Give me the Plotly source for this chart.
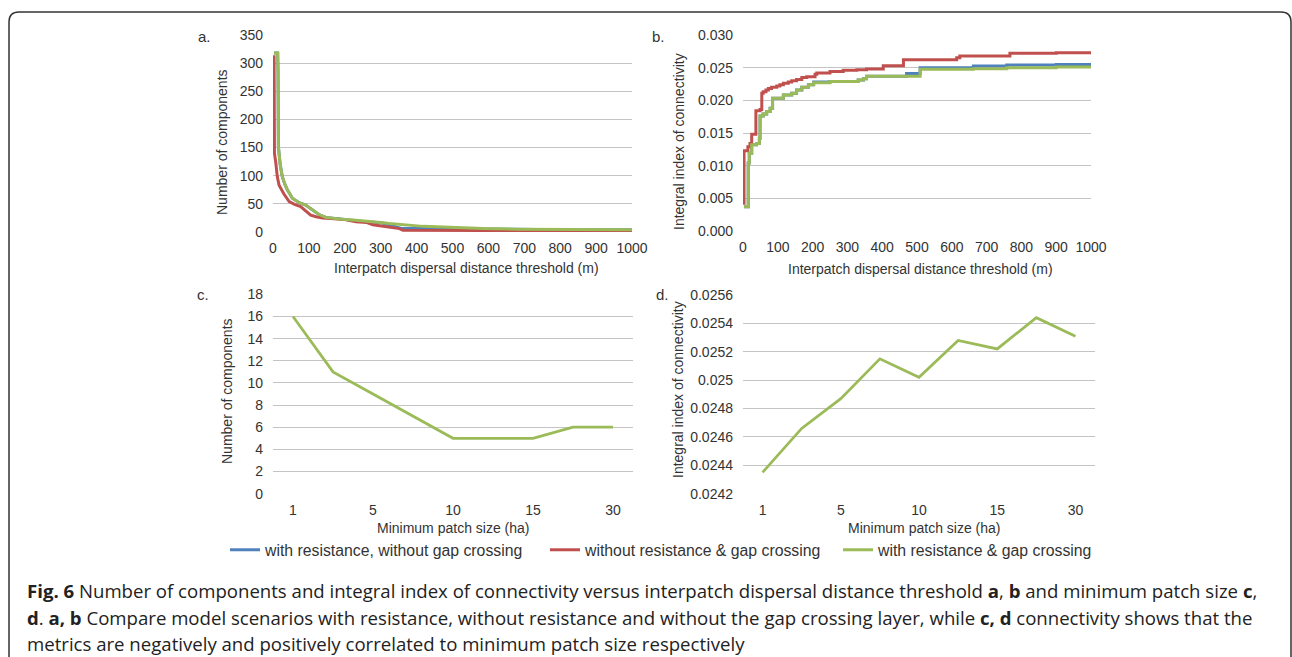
import plotly.graph_objects as go

W, H = 1292, 657


def fx(p):
    return p / W


def fy(p):
    return 1 - p / H


BLUE = "#4F81BD"
RED = "#C0504D"
GREEN = "#9BBB59"
GRID = "#c4c4c4"
TXT = "#333333"
FONT = "Liberation Sans, Arial, sans-serif"

series_names = [
    "with resistance, without gap crossing",
    "without resistance & gap crossing",
    "with resistance & gap crossing",
]

# ---------------- Panel a: number of components vs distance threshold (m)
a_blue_x = [3, 13, 14, 15, 20, 26, 33, 40, 54, 73, 91, 110, 128, 147, 185, 231, 263, 305, 340, 360, 450, 550, 668, 800, 1000]
a_blue_y = [318, 318, 285, 151, 120, 98, 85, 75, 60, 52, 48, 39, 31, 26, 23, 20, 18, 16, 10, 6, 6, 6, 5, 4, 4]

a_red_x = [3, 4, 8, 12, 17, 30, 45, 60, 77, 90, 105, 120, 138, 160, 200, 231, 260, 278, 300, 324, 340, 352, 362, 400, 500, 600, 700, 800, 900, 1000]
a_red_y = [314, 140, 122, 98, 83, 68, 54, 49, 45, 38, 30, 27, 25, 24, 22, 18, 17, 13, 11, 9, 8, 6, 3, 3, 3, 2, 2, 2, 2, 2]

a_green_x = [3, 13, 14, 15, 20, 26, 33, 40, 54, 73, 91, 110, 128, 147, 185, 231, 278, 300, 324, 343, 362, 418, 511, 585, 680, 865, 1000]
a_green_y = [318, 318, 285, 151, 120, 98, 85, 75, 60, 52, 48, 39, 31, 26, 23, 21, 19, 17, 15, 14, 12, 10, 8, 6, 5, 5, 4]

# ---------------- Panel b: integral index of connectivity vs distance threshold (m)
b_blue_x = [3, 15, 18, 25, 39, 47, 49, 58, 68, 78, 85, 116, 140, 154, 169, 188, 203, 250, 317, 331, 346, 355, 470, 509, 662, 758, 900, 1000]
b_blue_y = [0.0037, 0.0104, 0.0119, 0.0132, 0.0134, 0.0142, 0.0176, 0.0179, 0.0183, 0.0188, 0.0203, 0.0208, 0.0211, 0.0216, 0.0220, 0.0224, 0.0228, 0.0229, 0.0229, 0.0231, 0.0233, 0.0237, 0.0241, 0.0250, 0.02526, 0.0254, 0.0255, 0.0256]

b_red_x = [3, 3, 14, 20, 25, 37, 49, 54, 58, 66, 73, 82, 97, 106, 116, 130, 140, 154, 169, 183, 207, 212, 250, 288, 327, 355, 403, 461, 614, 623, 767, 900, 1000]
b_red_y = [0.0040, 0.0123, 0.0129, 0.0134, 0.0148, 0.0184, 0.0186, 0.0211, 0.0213, 0.0216, 0.0218, 0.0220, 0.0222, 0.0224, 0.0226, 0.0228, 0.0230, 0.0232, 0.0235, 0.0236, 0.0240, 0.0242, 0.0244, 0.0246, 0.0247, 0.0248, 0.0253, 0.0262, 0.0265, 0.0268, 0.0272, 0.0273, 0.0274]

b_green_x = [3, 15, 18, 25, 39, 47, 49, 58, 68, 78, 85, 116, 140, 154, 169, 188, 203, 250, 317, 331, 346, 355, 509, 662, 758, 900, 1000]
b_green_y = [0.0037, 0.0104, 0.0119, 0.0132, 0.0134, 0.0142, 0.0176, 0.0179, 0.0183, 0.0188, 0.0203, 0.0208, 0.0211, 0.0216, 0.0220, 0.0224, 0.0227, 0.0229, 0.0229, 0.0231, 0.0233, 0.0237, 0.02475, 0.02485, 0.0250, 0.0251, 0.0251]

# ---------------- Panels c, d: minimum patch size (ha)
patch_sizes = ["1", "2.5", "5", "7.5", "10", "12.5", "15", "20", "30"]
patch_labels = ["1", "5", "10", "15", "30"]
c_components = [16, 11, 9, 7, 5, 5, 5, 6, 6]
d_iic = [0.02435, 0.02466, 0.02487, 0.02515, 0.02502, 0.02528, 0.02522, 0.02544, 0.02531]

a_yticks = [0, 50, 100, 150, 200, 250, 300, 350]
b_yticks = [0.000, 0.005, 0.010, 0.015, 0.020, 0.025, 0.030]
c_yticks = [0, 2, 4, 6, 8, 10, 12, 14, 16, 18]
d_yticks = [0.0242, 0.0244, 0.0246, 0.0248, 0.0250, 0.0252, 0.0254, 0.0256]
d_ytext = ["0.0242", "0.0244", "0.0246", "0.0248", "0.025", "0.0252", "0.0254", "0.0256"]
dist_ticks = list(range(0, 1001, 100))

fig = go.Figure()

colors = [BLUE, RED, GREEN]
legends = ["legend", "legend2", "legend3"]
a_data = [(a_blue_x, a_blue_y), (a_red_x, a_red_y), (a_green_x, a_green_y)]
b_data = [(b_blue_x, b_blue_y), (b_red_x, b_red_y), (b_green_x, b_green_y)]

for i in range(3):
    fig.add_trace(go.Scatter(
        x=a_data[i][0], y=a_data[i][1], mode="lines", name=series_names[i],
        line=dict(color=colors[i], width=3), xaxis="x", yaxis="y",
        legend=legends[i], showlegend=True))
for i in range(3):
    fig.add_trace(go.Scatter(
        x=b_data[i][0], y=b_data[i][1], mode="lines", name=series_names[i],
        line=dict(color=colors[i], width=3, shape="hv"), xaxis="x2", yaxis="y2",
        showlegend=False))

fig.add_trace(go.Scatter(x=patch_sizes, y=c_components, mode="lines",
                         line=dict(color=GREEN, width=2.75), xaxis="x3", yaxis="y3",
                         showlegend=False))
fig.add_trace(go.Scatter(x=patch_sizes, y=d_iic, mode="lines",
                         line=dict(color=GREEN, width=2.75), xaxis="x4", yaxis="y4",
                         showlegend=False))

tickfont = dict(family=FONT, size=14, color=TXT)


def xax(dom, anchor, **kw):
    d = dict(domain=dom, anchor=anchor, showgrid=False, zeroline=False, showline=False,
             ticks="", tickfont=tickfont, ticklabelstandoff=6, fixedrange=True, automargin=False)
    d.update(kw)
    return d


def yax(dom, anchor, **kw):
    d = dict(domain=dom, anchor=anchor, showgrid=True, gridcolor=GRID, gridwidth=1,
             zeroline=False, showline=False, ticks="", tickfont=tickfont,
             ticklabelstandoff=9, fixedrange=True, tickmode="array", automargin=False)
    d.update(kw)
    return d


layout = dict(
    width=W, height=H,
    margin=dict(l=0, r=0, t=0, b=0, pad=0, autoexpand=False),
    paper_bgcolor="white", plot_bgcolor="white",
    font=dict(family=FONT, size=14, color=TXT),
    xaxis=xax([fx(273), fx(632)], "y", range=[0, 1000], tickmode="array", tickvals=dist_ticks),
    yaxis=yax([fy(232), fy(35)], "x", range=[0, 350], tickvals=a_yticks),
    xaxis2=xax([fx(743), fx(1091)], "y2", range=[0, 1000], tickmode="array", tickvals=dist_ticks),
    yaxis2=yax([fy(231), fy(35)], "x2", range=[0, 0.030], tickvals=b_yticks, tickformat=".3f"),
    xaxis3=xax([fx(273), fx(633)], "y3", type="category", range=[-0.5, 8.5],
               tickmode="array", tickvals=patch_labels, ticktext=patch_labels),
    yaxis3=yax([fy(493.7), fy(294.3)], "x3", range=[0, 18], tickvals=c_yticks),
    xaxis4=xax([fx(743), fx(1095)], "y4", type="category", range=[-0.5, 8.5],
               tickmode="array", tickvals=patch_labels, ticktext=patch_labels),
    yaxis4=yax([fy(493.7), fy(295)], "x4", range=[0.0242, 0.0256], tickvals=d_yticks, ticktext=d_ytext),
    showlegend=True,
)

leg_common = dict(orientation="h", xanchor="left", yanchor="middle", bgcolor="rgba(0,0,0,0)",
                  borderwidth=0, font=dict(family=FONT, size=15.8, color=TXT))
layout["legend"] = dict(leg_common, x=fx(225), y=fy(550))
layout["legend2"] = dict(leg_common, x=fx(545), y=fy(550))
layout["legend3"] = dict(leg_common, x=fx(838), y=fy(550))

fig.update_layout(**layout)

annotations = []


def ann(text, x, y, size=14, angle=0, xanchor="center", family=FONT, color=TXT):
    annotations.append(dict(text=text, x=fx(x), y=fy(y), xref="paper", yref="paper",
                            showarrow=False, textangle=angle, xanchor=xanchor, yanchor="middle",
                            font=dict(family=family, size=size, color=color)))


# panel letters
ann("a.", 204, 36, size=15)
ann("b.", 658, 36, size=15)
ann("c.", 203, 295, size=15)
ann("d.", 662, 295, size=15)
# axis titles
ann("Number of components", 222, 142, angle=-90)
ann("Integral index of connectivity", 679, 142, angle=-90)
ann("Number of components", 227, 391, angle=-90)
ann("Integral index of connectivity", 678, 389, angle=-90)
ann("Interpatch dispersal distance threshold (m)", 466, 268)
ann("Interpatch dispersal distance threshold (m)", 920, 269)
ann("Minimum patch size (ha)", 453, 528)
ann("Minimum patch size (ha)", 924, 528)

# caption
CAP = "Open Sans, sans-serif"
ann("<b>Fig. 6</b> Number of components and integral index of connectivity versus interpatch dispersal distance threshold <b>a</b>, <b>b</b> and minimum patch size <b>c</b>,",
    25, 590, size=18.6, xanchor="left", family=CAP, color="#222222")
ann("<b>d</b>. <b>a, b</b> Compare model scenarios with resistance, without resistance and without the gap crossing layer, while <b>c, d</b> connectivity shows that the",
    25, 617, size=18.6, xanchor="left", family=CAP, color="#222222")
ann("metrics are negatively and positively correlated to minimum patch size respectively",
    25, 643, size=18.6, xanchor="left", family=CAP, color="#222222")

fig.update_layout(annotations=annotations)

# outer rounded frame
r = 10
frame = (f"M {fx(9)},{fy(H + 5)} L {fx(9)},{fy(12 + r)} Q {fx(9)},{fy(12)} {fx(9 + r)},{fy(12)} "
         f"L {fx(1291 - r)},{fy(12)} Q {fx(1291)},{fy(12)} {fx(1291)},{fy(12 + r)} L {fx(1291)},{fy(H + 5)}")
fig.update_layout(shapes=[dict(type="path", path=frame, xref="paper", yref="paper",
                               line=dict(color="#333333", width=1.5))])

fig.write_html("out.html", config={"displayModeBar": False},
               post_script="document.body.style.margin='0';document.body.style.overflow='hidden';")
